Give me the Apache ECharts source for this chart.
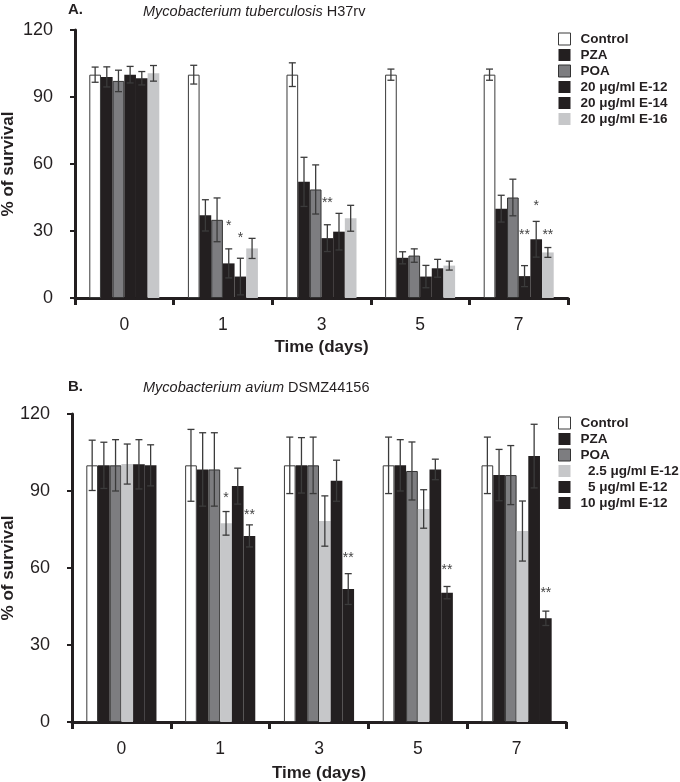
<!DOCTYPE html>
<html><head><meta charset="utf-8">
<script src="https://cdn.jsdelivr.net/npm/echarts@6/dist/echarts.min.js"></script>
<style>html,body{margin:0;padding:0;background:#fff}#c{width:680px;height:782px}</style>
</head><body><div id="c"></div>
<script>
// ---------- data ----------
const days = ['0', '1', '3', '5', '7'];

// Panel A: Mycobacterium tuberculosis H37rv
const namesA = ['Control', 'PZA', 'POA', '20 μg/ml E-12', '20 μg/ml E-14', '20 μg/ml E-16'];
const a_control = [100, 100, 100, 100, 100];
const a_pza     = [99, 37, 52, 18, 40];
const a_poa     = [97.2, 35, 48.6, 19, 45];
const a_e12     = [100, 15.5, 26.8, 9.6, 9.8];
const a_e14     = [98.4, 9.6, 29.7, 13.3, 26.3];
const a_e16     = [100.6, 22.2, 35.7, 14.5, 20.4];
const a_control_err = [3.4, 4.2, 5.3, 2.5, 2.5];
const a_pza_err     = [4.5, 7, 11, 2.7, 6];
const a_poa_err     = [4.8, 9.8, 11, 3, 8.2];
const a_e12_err     = [3.7, 6.5, 6, 5, 4.7];
const a_e14_err     = [3, 8.2, 8.2, 4, 8];
const a_e16_err     = [3.5, 4.5, 5.8, 2, 2.2];
// significance marks: [day index, series index, label height (value), text]
const a_sig = [[1, 3, 33.6, '*'], [1, 4, 28.2, '*'], [2, 3, 43.9, '**'],
               [4, 3, 29.6, '**'], [4, 4, 42.5, '*'], [4, 5, 29.6, '**']];

// Panel B: Mycobacterium avium DSMZ44156
const namesB = ['Control', 'PZA', 'POA', '  2.5 μg/ml E-12', '  5 μg/ml E-12', '10 μg/ml E-12'];
const b_control = [100, 100, 100, 100, 100];
const b_pza     = [100, 98.4, 100, 100, 96.2];
const b_poa     = [100, 98.4, 100, 97.8, 96.2];
const b_e12_25  = [100.5, 77.4, 78.3, 83, 74.4];
const b_e12_5   = [100.4, 91.9, 94, 98.4, 103.6];
const b_e12_10  = [100, 72.5, 51.8, 50.4, 40.4];
const b_control_err = [9.8, 14, 11, 11, 11];
const b_pza_err     = [9, 14.3, 10.8, 10, 10];
const b_poa_err     = [10, 14.3, 11, 11.3, 11.5];
const b_e12_25_err  = [7.8, 4.6, 9.8, 7.5, 11.7];
const b_e12_5_err   = [9.6, 7, 8, 4, 12.4];
const b_e12_10_err  = [8, 4.3, 6, 2.4, 2.8];
const b_sig = [[1, 3, 88.4, '*'], [1, 5, 81.8, '**'], [2, 5, 65, '**'],
               [3, 5, 60.5, '**'], [4, 5, 51.2, '**']];

const yMin = 0, yMax = 120, yStep = 30;

// ---------- styles ----------
const BLACK = '#231f20', GRAY = '#7d7d80', LIGHT = '#c6c7c9';
const stylesA = [
  {color: '#ffffff', borderColor: '#3a3a3a', borderWidth: 1},
  {color: BLACK, borderWidth: 0},
  {color: GRAY, borderColor: '#333', borderWidth: 1},
  {color: BLACK, borderWidth: 0},
  {color: BLACK, borderWidth: 0},
  {color: LIGHT, borderWidth: 0}
];
const stylesB = [
  {color: '#ffffff', borderColor: '#3a3a3a', borderWidth: 1},
  {color: BLACK, borderWidth: 0},
  {color: GRAY, borderColor: '#333', borderWidth: 1},
  {color: LIGHT, borderWidth: 0},
  {color: BLACK, borderWidth: 0},
  {color: BLACK, borderWidth: 0}
];
const GAP = 0.29;

function errData(vals, errs) {
  const out = [];
  vals.forEach((v, si) => v.forEach((y, ci) => out.push([ci, si, y, errs[si][ci]])));
  return out;
}
function barCenter(api, cat, si, n) {
  const band = api.size([1, 0])[0];
  const bw = band * (1 - GAP) / n;
  return api.coord([cat, 0])[0] - band * (1 - GAP) / 2 + (si + 0.5) * bw;
}
function errRender(params, api) {
  const cat = api.value(0), si = api.value(1), v = api.value(2), e = api.value(3);
  const cx = barCenter(api, cat, si, 6);
  const yt = api.coord([cat, v + e])[1], yb = api.coord([cat, v - e])[1];
  const cap = 3.5;
  const st = {stroke: '#3b3b3b', lineWidth: 1.3, fill: null};
  return {type: 'group', children: [
    {type: 'line', shape: {x1: cx, y1: yt, x2: cx, y2: yb}, style: st},
    {type: 'line', shape: {x1: cx - cap, y1: yt, x2: cx + cap, y2: yt}, style: st},
    {type: 'line', shape: {x1: cx - cap, y1: yb, x2: cx + cap, y2: yb}, style: st}
  ]};
}
const sigText = {sigA: a_sig.map(s => s[3]), sigB: b_sig.map(s => s[3])};
function sigRender(params, api) {
  const cat = api.value(0), si = api.value(1), v = api.value(2);
  const cx = barCenter(api, cat, si, 6);
  const y = api.coord([cat, v])[1] + 3;
  return {type: 'text', x: cx, y: y, style: {
    text: sigText[params.seriesName][params.dataIndex],
    fill: '#444', font: '14px Arial, "Liberation Sans", sans-serif',
    align: 'center', verticalAlign: 'middle'}};
}

const valsA = [a_control, a_pza, a_poa, a_e12, a_e14, a_e16];
const errsA = [a_control_err, a_pza_err, a_poa_err, a_e12_err, a_e14_err, a_e16_err];
const valsB = [b_control, b_pza, b_poa, b_e12_25, b_e12_5, b_e12_10];
const errsB = [b_control_err, b_pza_err, b_poa_err, b_e12_25_err, b_e12_5_err, b_e12_10_err];

const FONT = 'Arial, "Liberation Sans", Helvetica, sans-serif';

function xAxisCfg(gi) {
  return {
    type: 'category', gridIndex: gi, data: days,
    name: 'Time (days)', nameLocation: 'middle', nameGap: gi === 0 ? 41 : 43,
    nameMoveOverlap: false,
    nameTextStyle: {fontFamily: FONT, fontSize: 17, fontWeight: 'bold', color: BLACK},
    axisLine: {lineStyle: {color: BLACK, width: 3}},
    axisTick: {show: true, length: 7, lineStyle: {color: BLACK, width: 3}},
    axisLabel: {fontFamily: FONT, fontSize: 17.5, color: BLACK, margin: 18},
    splitLine: {show: false}
  };
}
function yAxisCfg(gi) {
  return {
    type: 'value', gridIndex: gi, min: yMin, max: yMax, interval: yStep,
    name: '% of survival', nameLocation: 'middle', nameGap: gi === 0 ? 58 : 55, nameRotate: 90,
    nameMoveOverlap: false,
    nameTextStyle: {fontFamily: FONT, fontSize: 17, fontWeight: 'bold', color: BLACK},
    axisLine: {show: true, lineStyle: {color: BLACK, width: 3}},
    axisTick: {show: true, length: 5, lineStyle: {color: BLACK, width: 2}},
    axisLabel: {fontFamily: FONT, fontSize: 18, color: BLACK, margin: 22},
    splitLine: {show: false}
  };
}
function legendCfg(names, styles, top) {
  return {
    orient: 'vertical', left: 558, top: top, padding: 0,
    itemWidth: 12, itemHeight: 12, itemGap: 0, icon: 'rect', selectedMode: false,
    textStyle: {fontFamily: FONT, fontSize: 13.5, fontWeight: 'bold', color: BLACK,
                lineHeight: 16, padding: [0, 0, 0, 5]},
    data: names.map((n, i) => ({name: n, itemStyle: {
      color: styles[i].color,
      borderColor: styles[i].borderWidth ? styles[i].borderColor : styles[i].color,
      borderWidth: styles[i].borderWidth ? 1 : 0}}))
  };
}

const series = [];
namesA.forEach((n, i) => series.push({
  type: 'bar', name: n, xAxisIndex: 0, yAxisIndex: 0, data: valsA[i],
  itemStyle: stylesA[i], barGap: '0%', barCategoryGap: (GAP * 100) + '%', silent: true
}));
namesB.forEach((n, i) => series.push({
  type: 'bar', name: n, xAxisIndex: 1, yAxisIndex: 1, data: valsB[i],
  itemStyle: stylesB[i], barGap: '0%', barCategoryGap: (GAP * 100) + '%', silent: true
}));
series.push({type: 'custom', name: 'errA', xAxisIndex: 0, yAxisIndex: 0, z: 5, silent: true,
  renderItem: errRender, encode: {x: 0, y: 2}, data: errData(valsA, errsA)});
series.push({type: 'custom', name: 'errB', xAxisIndex: 1, yAxisIndex: 1, z: 5, silent: true,
  renderItem: errRender, encode: {x: 0, y: 2}, data: errData(valsB, errsB)});
series.push({type: 'custom', name: 'sigA', xAxisIndex: 0, yAxisIndex: 0, z: 6, silent: true,
  renderItem: sigRender, encode: {x: 0, y: 2}, data: a_sig.map(s => [s[0], s[1], s[2]])});
series.push({type: 'custom', name: 'sigB', xAxisIndex: 1, yAxisIndex: 1, z: 6, silent: true,
  renderItem: sigRender, encode: {x: 0, y: 2}, data: b_sig.map(s => [s[0], s[1], s[2]])});

const chart = echarts.init(document.getElementById('c'), null, {renderer: 'canvas'});
chart.setOption({
  backgroundColor: '#fff',
  animation: false,
  title: [
    {text: 'A.', left: 68, top: 2, padding: 0, textStyle: {fontFamily: FONT, fontSize: 15, fontWeight: 'bold', color: BLACK}},
    {text: '{i|Mycobacterium tuberculosis} H37rv', left: 143, top: 4, padding: 0,
     textStyle: {fontFamily: FONT, fontSize: 14.5, fontWeight: 'normal', color: BLACK,
       rich: {i: {fontFamily: FONT, fontSize: 14.5, fontStyle: 'italic', color: BLACK}}}},
    {text: 'B.', left: 68, top: 379, padding: 0, textStyle: {fontFamily: FONT, fontSize: 15, fontWeight: 'bold', color: BLACK}},
    {text: '{i|Mycobacterium avium} DSMZ44156', left: 143, top: 380, padding: 0,
     textStyle: {fontFamily: FONT, fontSize: 14.5, fontWeight: 'normal', color: BLACK,
       rich: {i: {fontFamily: FONT, fontSize: 14.5, fontStyle: 'italic', color: BLACK}}}}
  ],
  legend: [legendCfg(namesA, stylesA, 31), legendCfg(namesB, stylesB, 415)],
  grid: [
    {left: 75, top: 30, width: 493, height: 268, outerBoundsMode: 'none'},
    {left: 72, top: 414, width: 494, height: 308, outerBoundsMode: 'none'}
  ],
  xAxis: [xAxisCfg(0), xAxisCfg(1)],
  yAxis: [yAxisCfg(0), yAxisCfg(1)],
  series: series
});
</script>
</body></html>
